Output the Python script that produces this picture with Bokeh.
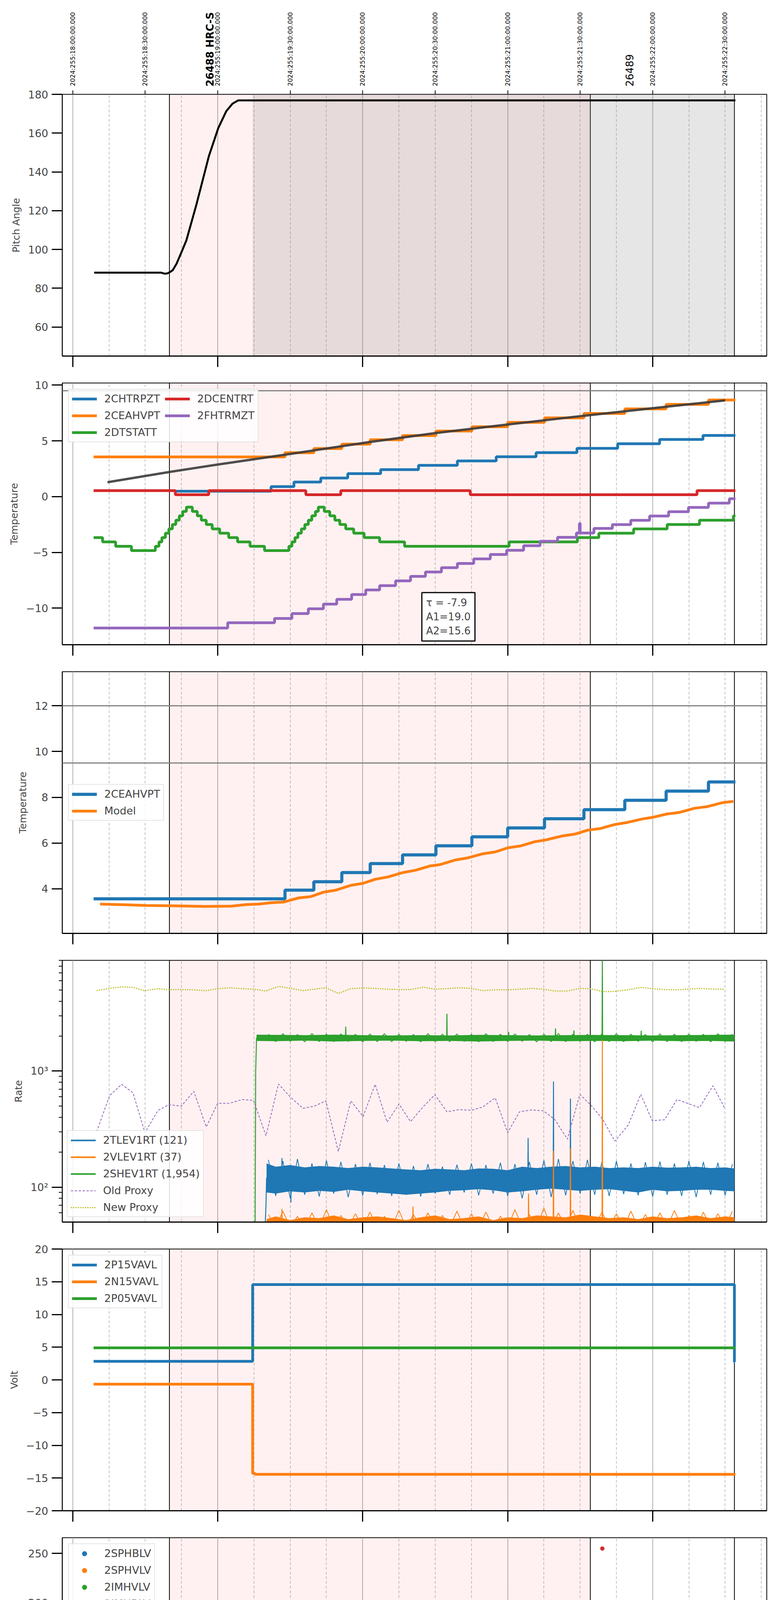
import math
from bokeh.plotting import figure
from bokeh.models import (Range1d, FixedTicker, LinearAxis, Span, BoxAnnotation,
                          Label, Legend, LegendItem)
from bokeh.layouts import column
from bokeh.embed import file_html
from bokeh.resources import INLINE
from bokeh.core.properties import value

FONT = "DejaVu Sans"
NAN = float("nan")

# ---------------- time axis (hours of 2024-09-11) ----------------
X_START, X_END = 13.928, 18.787
HOURS = [14, 15, 16, 17, 18]
HOUR_LABELS = ["14h", "15h", "16h", "17h", "18h"]
QUARTERS = [14.25, 14.5, 14.75, 15.25, 15.5, 15.75, 16.25, 16.5, 16.75,
            17.25, 17.5, 17.75, 18.25, 18.5, 18.75]
QUARTER_LABELS = ["15", "30", "45"] * 5
TOP_TICKS = [14.0, 14.5, 15.0, 15.5, 16.0, 16.5, 17.0, 17.5, 18.0, 18.5]
TOP_LABELS = ["2024:255:18:00:00.000", "2024:255:18:30:00.000",
              "2024:255:19:00:00.000", "2024:255:19:30:00.000",
              "2024:255:20:00:00.000", "2024:255:20:30:00.000",
              "2024:255:21:00:00.000", "2024:255:21:30:00.000",
              "2024:255:22:00:00.000", "2024:255:22:30:00.000"]
OBS_EDGES = [14.667, 17.570, 18.564]
OBS_NAMES = ["26488 HRC-S", "26489"]
SLEW_END = 15.241
X_TITLE = "2024-09-11 (255)"

# ---------------- panel 1: pitch ----------------
PITCH_T = [14.148, 14.612, 14.633, 14.652, 14.666, 14.690, 14.716, 14.752, 14.784,
           14.853, 14.939, 15.004, 15.059, 15.102, 15.142, 18.571]
PITCH_V = [88.0, 88.0, 87.5, 87.6, 88.1, 89.3, 92.6, 98.9, 104.7,
           123.1, 148.1, 162.6, 171.3, 175.2, 176.9, 176.9]

# ---------------- panel 2: temperatures ----------------
CHTRPZT_T = [14.715, 15.368, 15.526, 15.711, 15.897, 16.124, 16.385, 16.653, 16.921,
             17.196, 17.478, 17.759, 18.048, 18.347, 18.571]
CHTRPZT_V = [0.49, 0.90, 1.31, 1.67, 2.06, 2.42, 2.81, 3.20, 3.58,
             3.95, 4.33, 4.74, 5.13, 5.49, 5.49]
CEAHVPT_T = [14.144, 15.464, 15.663, 15.856, 16.052, 16.275, 16.505, 16.753, 17.000,
             17.254, 17.526, 17.808, 18.093, 18.385, 18.571]
CEAHVPT_V = [3.56, 3.94, 4.31, 4.71, 5.10, 5.48, 5.88, 6.27, 6.66,
             7.06, 7.46, 7.87, 8.27, 8.67, 8.67]
DTSTATT_T = [14.144, 14.206, 14.296, 14.405, 14.570, 14.595, 14.615, 14.639, 14.663,
             14.687, 14.711, 14.735, 14.759, 14.784, 14.825, 14.859, 14.887, 14.921,
             14.962, 15.014, 15.076, 15.137, 15.223, 15.323, 15.491, 15.512, 15.533,
             15.553, 15.577, 15.601, 15.625, 15.649, 15.674, 15.694, 15.735, 15.773,
             15.808, 15.842, 15.883, 15.938, 16.010, 16.117, 16.289, 17.010, 17.481,
             17.629, 17.869, 18.100, 18.323, 18.557, 18.571]
DTSTATT_V = [-3.67, -4.06, -4.45, -4.84, -4.45, -4.06, -3.67, -3.28, -2.89,
             -2.50, -2.11, -1.72, -1.33, -0.94, -1.33, -1.72, -2.11, -2.50,
             -2.89, -3.28, -3.67, -4.06, -4.45, -4.84, -4.45, -4.06, -3.67,
             -3.28, -2.89, -2.50, -2.11, -1.72, -1.33, -0.94, -1.33, -1.72,
             -2.11, -2.50, -2.89, -3.28, -3.67, -4.06, -4.45, -4.06, -3.67,
             -3.28, -2.89, -2.50, -2.11, -1.72, -1.72]
DCENTRT_T = [14.144, 14.708, 14.938, 15.608, 15.849, 16.742, 18.306, 18.571]
DCENTRT_V = [0.54, 0.17, 0.54, 0.17, 0.54, 0.17, 0.54, 0.54]
FHTRMZT_T = [14.144, 15.069, 15.392, 15.512, 15.625, 15.729, 15.821, 15.924, 16.021,
             16.117, 16.227, 16.330, 16.433, 16.543, 16.653, 16.766, 16.880, 16.993,
             17.110, 17.223, 17.344, 17.474, 17.495, 17.500, 17.595, 17.722, 17.849,
             17.979, 18.110, 18.247, 18.385, 18.529, 18.571]
FHTRMZT_V = [-11.78, -11.31, -10.92, -10.49, -10.06, -9.64, -9.21, -8.78, -8.37,
             -7.98, -7.55, -7.15, -6.76, -6.37, -5.99, -5.58, -5.19, -4.81,
             -4.40, -4.01, -3.65, -3.26, -2.40, -3.26, -2.85, -2.51, -2.12,
             -1.74, -1.35, -0.97, -0.58, -0.19, -0.19]
FIT_T = [14.24, 14.667, 15.0, 15.46, 16.05, 16.5, 17.0, 17.53, 18.0, 18.50]
FIT_V = [1.29, 2.21, 2.88, 3.75, 4.90, 5.70, 6.47, 7.26, 7.93, 8.63]
FIT_TEXT = "\u03c4 = -7.9\nA1=19.0\nA2=15.6"

# ---------------- panel 3: model ----------------
MODEL_T = [14.189, 14.371, 14.509, 14.667, 14.749, 14.904, 15.093, 15.196, 15.282,
           15.368, 15.454, 15.557, 15.643, 15.729, 15.814, 15.918, 16.003, 16.089,
           16.175, 16.278, 16.364, 16.467, 16.536, 16.639, 16.725, 16.828, 16.914,
           17.000, 17.086, 17.189, 17.258, 17.378, 17.464, 17.550, 17.636, 17.739,
           17.825, 17.928, 17.997, 18.100, 18.186, 18.289, 18.375, 18.478, 18.557]
MODEL_V = [3.33, 3.30, 3.27, 3.26, 3.25, 3.23, 3.24, 3.31, 3.33,
           3.39, 3.42, 3.60, 3.66, 3.85, 3.94, 4.15, 4.24, 4.42,
           4.52, 4.71, 4.81, 5.00, 5.06, 5.26, 5.35, 5.53, 5.61,
           5.79, 5.87, 6.06, 6.13, 6.31, 6.39, 6.56, 6.63, 6.81,
           6.90, 7.05, 7.12, 7.27, 7.34, 7.52, 7.59, 7.76, 7.82]

# ---------------- panel 4: rates ----------------
RATE_BAND_T = [15.337, 15.40, 15.50, 15.60, 15.70, 15.80, 15.90, 16.00, 16.10, 16.20,
               16.30, 16.40, 16.50, 16.60, 16.70, 16.80, 16.90, 17.00, 17.10, 17.20,
               17.30, 17.40, 17.50, 17.60, 17.70, 17.80, 17.90, 18.00, 18.10, 18.20,
               18.30, 18.40, 18.50, 18.564]
TLEV_HI = [160, 150, 155, 148, 152, 150, 146, 150, 148, 145,
           142, 140, 144, 142, 140, 145, 144, 140, 150, 146,
           150, 152, 148, 150, 146, 148, 146, 150, 147, 148,
           150, 146, 148, 145]
TLEV_LO = [90, 88, 92, 90, 93, 91, 95, 92, 90, 88,
           86, 88, 90, 93, 94, 96, 94, 90, 92, 95,
           97, 95, 93, 95, 96, 93, 90, 95, 92, 93,
           95, 95, 93, 92]
VLEV_HI = [53, 56, 52, 55, 54, 57, 53, 55, 56, 54,
           52, 55, 57, 53, 54, 56, 52, 55, 54, 57,
           56, 55, 58, 56, 54, 55, 53, 56, 54, 55,
           57, 54, 56, 55]
SHEV_BAND_T = [15.268, 15.40, 15.60, 15.80, 16.00, 16.20, 16.40, 16.60, 16.80, 17.00,
               17.20, 17.40, 17.60, 17.80, 18.00, 18.20, 18.40, 18.564]
SHEV_HI = [2060, 2050, 2040, 2060, 2040, 2030, 2040, 2030, 2050, 2040,
           2030, 2040, 2050, 2040, 2030, 2040, 2050, 2060]
SHEV_LO = [1820, 1810, 1830, 1800, 1820, 1830, 1810, 1820, 1800, 1820,
           1830, 1810, 1820, 1810, 1830, 1810, 1820, 1800]
NOISE_T = [15.35, 15.40, 15.45, 15.50, 15.55, 15.60, 15.65, 15.70, 15.75, 15.80,
           15.85, 15.90, 15.95, 16.00, 16.05, 16.10, 16.15, 16.20, 16.25, 16.30,
           16.35, 16.40, 16.45, 16.50, 16.55, 16.60, 16.65, 16.70, 16.75, 16.80,
           16.85, 16.90, 16.95, 17.00, 17.05, 17.10, 17.15, 17.20, 17.25, 17.30,
           17.35, 17.40, 17.45, 17.50, 17.55, 17.60, 17.65, 17.70, 17.75, 17.80,
           17.85, 17.90, 17.95, 18.00, 18.05, 18.10, 18.15, 18.20, 18.25, 18.30,
           18.35, 18.40, 18.45, 18.50, 18.55]
TLEV_NOISE = [172, 84, 168, 80, 175, 86, 160, 83, 170, 88,
              165, 82, 158, 85, 162, 87, 155, 84, 160, 86,
              152, 83, 158, 88, 150, 86, 156, 90, 160, 85,
              155, 88, 162, 84, 158, 80, 165, 86, 170, 82,
              175, 85, 168, 88, 172, 86, 165, 84, 168, 87,
              160, 85, 164, 83, 166, 86, 160, 84, 168, 82,
              165, 86, 162, 85, 158]
VLEV_NOISE = [58, 45, 62, 45, 56, 45, 60, 45, 64, 45,
              57, 45, 59, 45, 61, 45, 56, 45, 63, 45,
              58, 45, 60, 45, 57, 45, 62, 45, 59, 45,
              61, 45, 56, 45, 64, 45, 58, 45, 66, 45,
              60, 45, 63, 45, 57, 45, 61, 45, 59, 45,
              62, 45, 58, 45, 60, 45, 63, 45, 57, 45,
              61, 45, 59, 45, 62]
SHEV_NOISE = [2080, 1790, 2100, 1800, 2070, 1785, 2110, 1795, 2085, 1790,
              2095, 1800, 2075, 1785, 2090, 1795, 2100, 1790, 2080, 1800,
              2070, 1785, 2105, 1795, 2085, 1790, 2090, 1800, 2075, 1785,
              2100, 1795, 2080, 1790, 2095, 1800, 2070, 1785, 2085, 1795,
              2110, 1790, 2080, 1800, 2075, 1785, 2090, 1795, 2100, 1790,
              2085, 1800, 2070, 1785, 2095, 1795, 2080, 1790, 2090, 1800,
              2075, 1785, 2100, 1795, 2085]
TLEV_T = [15.327, 15.333, 15.337, 15.441, 15.443, 15.445, 15.503, 15.505, 15.507,
          17.139, 17.141, 17.143, 17.314, 17.316, 17.318, 17.431, 17.433, 17.435, 18.564]
TLEV_V = [45, 70, 120, 120, 178, 120, 120, 74, 120,
          120, 265, 120, 120, 814, 120, 120, 580, 120, 120]
VLEV_T = [15.337, 15.441, 15.443, 15.445, 16.345, 16.347, 16.349, 17.142, 17.144, 17.146,
          17.314, 17.316, 17.318, 17.431, 17.433, 17.435, 17.651, 17.653, 17.655, 18.564]
VLEV_V = [48, 48, 65, 48, 48, 68, 48, 48, 88, 48,
          48, 206, 48, 48, 215, 48, 48, 1860, 48, 48]
SHEV_T = [15.258, 15.262, 15.268, 15.881, 15.883, 15.885, 16.579, 16.581, 16.583,
          17.005, 17.007, 17.009, 17.328, 17.330, 17.332, 17.455, 17.457, 17.459,
          17.651, 17.653, 17.655, 17.919, 17.921, 17.923, 18.564]
SHEV_V = [45, 1000, 1930, 1930, 2415, 1930, 1930, 3120, 1930,
          1930, 2180, 1930, 1930, 2330, 1930, 1930, 2240, 1930,
          1930, 9500, 1930, 1930, 2230, 1930, 1930]
PROXY_T = [14.165, 14.254, 14.337, 14.416, 14.498, 14.588, 14.663, 14.749, 14.835,
           14.921, 15.000, 15.082, 15.168, 15.247, 15.333, 15.419, 15.505, 15.588,
           15.667, 15.746, 15.832, 15.918, 16.003, 16.086, 16.168, 16.251, 16.330,
           16.416, 16.498, 16.581, 16.667, 16.749, 16.828, 16.914, 17.000, 17.082,
           17.165, 17.247, 17.326, 17.412, 17.498, 17.574, 17.656, 17.739, 17.832,
           17.918, 17.997, 18.082, 18.168, 18.323, 18.416, 18.495]
OLD_PROXY = [300, 613, 769, 649, 295, 458, 513, 499, 669,
             330, 528, 528, 569, 559, 277, 774, 591, 478,
             499, 554, 203, 554, 406, 769, 363, 519, 367,
             490, 626, 446, 466, 459, 490, 587, 295, 446,
             463, 455, 381, 259, 630, 509, 384, 249, 343,
             630, 374, 381, 569, 484, 748, 484]
NEW_PROXY = [4932, 5160, 5320, 5260, 4932, 5130, 5025, 5045, 5010,
             4932, 5130, 5225, 5130, 5080, 4895, 5360, 5160, 4932,
             5080, 5225, 4670, 5130, 5200, 5160, 5080, 5045, 5045,
             5280, 5080, 5130, 5225, 5160, 4932, 5025, 5010, 5080,
             5160, 5080, 4895, 4895, 5160, 5130, 4840, 4860, 5025,
             5260, 5130, 5045, 5010, 5160, 5080, 5080]

# ---------------- panel 5: voltages ----------------
P15_T = [14.144, 15.241, 18.564, 18.568]
P15_V = [2.83, 14.56, 2.75, 2.75]
N15_T = [14.144, 15.241, 15.258, 18.571]
N15_V = [-0.66, -14.3, -14.44, -14.44]
P05_T = [14.144, 18.571]
P05_V = [4.89, 4.89]

# ---------------- panel 6: HV monitors ----------------
SPHBLV_T = [15.292, 15.292, 15.294, 15.302, 15.313, 15.320, 15.330, 15.344, 18.571]
SPHBLV_V = [122, 111, 102, 97.5, 92, 87, 82, 77.5, 77.5]
SPHVLV_T = [15.292, 15.292, 15.292, 15.294, 15.305, 15.316, 15.327, 15.337, 15.344,
            17.780, 17.814, 17.842, 17.924, 18.271, 18.337, 18.571]
SPHVLV_V = [127, 125, 107, 96, 90, 85.5, 80, 75, 70.7,
            127, 127, 127, 127, 127, 127, 70.7]
IMHVLV_T = [NAN]
IMHVLV_V = [NAN]
IMHBLV_T = [17.653]
IMHBLV_V = [255]

# ---------------- panel 7: detector temps ----------------
SPINATM_T = [15.241, 15.306, 15.478, 15.498, 15.519, 15.540, 15.564, 15.588, 15.608,
             15.632, 15.653, 15.677, 15.735, 15.763, 15.790, 15.825, 15.866, 15.918,
             15.986, 16.072, 16.192, 16.381, 18.110, 18.571]
SPINATM_V = [2.67, 2.21, 2.70, 3.20, 3.71, 4.22, 4.74, 5.23, 5.75,
             6.24, 6.75, 7.27, 6.75, 6.24, 5.75, 5.23, 4.74, 4.22,
             3.71, 3.20, 2.70, 2.21, 2.70, 2.70]
SPINATM_SPIKE_T = [17.744, 17.752, 17.760, 17.814, 17.859, 17.918, 18.271, 18.337, 18.375]
SPINATM_SPIKE_V = [-2.0, -2.0, -2.0, -2.0, -2.0, -2.0, -2.0, -2.0, -2.0]
SPHVATM_T = [15.241, 15.392, 15.478, 15.540, 15.608, 15.677, 15.756, 15.842, 15.928,
             16.021, 16.124, 16.247, 16.357, 16.495, 16.632, 16.784, 16.942, 17.113,
             17.282, 17.474, 17.698, 17.931, 18.151, 18.399, 18.571]
SPHVATM_V = [11.64, 11.98, 12.33, 12.67, 13.01, 13.35, 13.70, 14.04, 14.38,
             14.73, 15.07, 15.41, 15.76, 16.10, 16.44, 16.79, 17.13, 17.47,
             17.82, 18.16, 18.50, 18.85, 19.19, 19.53, 19.53]
SPHVATM_SPIKE_T = [17.650, 17.739, 17.749, 17.759, 17.770, 17.780, 17.790, 17.801, 17.814,
                   17.821, 17.842, 17.863, 17.883, 17.904, 17.924, 18.271, 18.337, 18.375]
SPHVATM_SPIKE_V = [2.2, 9.0, 9.0, 9.0, 9.0, 9.0, 9.0, 9.0, -2.0,
                   9.0, 9.0, 9.0, 9.0, 9.0, 9.0, 9.7, 9.7, 9.7]
IMINATM_T = [15.241, 17.430, 17.440, 18.571]
IMINATM_V = [-0.09, 0.25, 0.34, 0.34]
IMINATM_SPIKE_T = [17.746, 17.763, 17.780, 17.821, 17.852, 17.876, 17.911, 18.271, 18.375]
IMINATM_SPIKE_V = [2.21, 2.21, 2.21, 2.21, 2.21, 2.21, 2.21, 2.5, 2.5]
IMHVATM_T = [15.238, 15.241, 15.694, 15.945, 16.165, 16.392, 16.598, 16.811, 17.017,
             17.223, 17.447, 17.677, 17.911, 18.134, 18.392, 18.571]
IMHVATM_V = [-2.0, 10.98, 11.32, 11.64, 11.98, 12.33, 12.64, 12.99, 13.30,
             13.65, 13.99, 14.34, 14.66, 15.00, 15.34, 15.34]
IMHVATM_SPIKE_T = [17.653, 17.739, 17.746, 17.753, 17.760, 17.767, 17.774, 17.781, 17.788,
                   17.795, 17.802, 17.809, 17.821, 17.842, 17.863, 17.883, 17.904, 17.924,
                   18.278, 18.375]
IMHVATM_SPIKE_V = [-2.0, 18.6, 18.6, 18.6, 18.6, 18.6, 18.6, 18.6, 18.6,
                   18.6, 18.6, 18.6, 18.6, 18.6, 18.6, 18.6, 18.6, 18.6,
                   18.6, 18.6]

# ---------------- panel 8: FEA temps ----------------
FRADPYT_T = [15.5, 15.718, 15.821, 15.918, 16.021, 16.124, 16.227, 16.337, 16.450,
             16.570, 16.691, 16.811, 16.931, 17.052, 17.179, 17.309, 17.447, 17.574,
             17.739, 17.876, 17.997, 18.134, 18.271, 18.426, 18.571]
FRADPYT_V = [-11.6, -10.88, -10.47, -10.03, -9.61, -9.24, -8.84, -8.42, -8.00,
             -7.59, -7.19, -6.77, -6.38, -5.98, -5.57, -5.19, -4.81, -4.44,
             -4.04, -3.66, -3.28, -2.89, -2.52, -2.14, -2.14]
FEPRATM_T = [15.265, 15.323, 15.361, 15.409, 15.471, 15.540, 15.625, 15.711, 15.804,
             15.900, 15.997, 16.100, 16.203, 16.306, 16.423, 16.536, 16.649, 16.770,
             16.890, 17.017, 17.155, 17.282, 17.419, 17.560, 17.698, 17.842, 18.003,
             18.158, 18.323, 18.571]
FEPRATM_V = [-11.5, -10.65, -10.28, -9.83, -9.41, -8.98, -8.56, -8.15, -7.73,
             -7.31, -6.88, -6.46, -6.04, -5.62, -5.20, -4.78, -4.36, -3.94,
             -3.52, -3.12, -2.72, -2.30, -1.88, -1.44, -1.01, -0.56, -0.14,
             0.34, 0.75, 0.75]
FEPRATM_SPIKE_T = [17.746, 17.763, 17.814, 17.832, 17.876, 17.893, 17.918, 18.271, 18.337]
FEPRATM_SPIKE_V = [-6.1, -6.1, -6.1, -6.1, -6.1, -6.1, -6.1, -6.1, -6.1]
FE00ATM_T = [15.55, 15.667, 15.746, 15.832, 15.918, 15.979, 16.055, 16.141, 16.227,
             16.316, 16.399, 16.488, 16.570, 16.656, 16.759, 16.845, 16.938, 17.034,
             17.127, 17.223, 17.326, 17.430, 17.533, 17.653, 17.739, 17.945, 18.065,
             18.151, 18.271, 18.392, 18.495, 18.571]
FE00ATM_V = [-11.6, -10.83, -10.43, -10.06, -9.72, -9.33, -8.94, -8.56, -8.17,
             -7.80, -7.53, -7.14, -6.77, -6.41, -6.02, -5.67, -5.37, -5.02,
             -4.66, -4.32, -3.98, -3.65, -3.31, -2.92, -2.61, -2.30, -2.02,
             -1.75, -0.98, -0.62, -0.31, -0.31]
FE00ATM_SPIKE_T = [15.787, 16.010, 17.268, 17.656, 17.742, 17.752, 17.763, 17.773, 17.783,
                   17.794, 17.801, 17.814, 17.821, 17.835, 17.852, 17.866, 17.890, 17.911,
                   18.274, 18.375, 18.485, 18.505]
FE00ATM_SPIKE_V = [-9.57, -8.2, -2.92, -11.6, 0.6, 0.6, 0.6, 0.6, 0.6,
                   0.6, -11.6, -11.6, 0.6, 0.6, -11.6, 0.6, 0.6, 0.6,
                   0.6, 0.6, -1.0, 0.0]

BLUE, ORANGE, GREEN, RED, PURPLE, OLIVE = ("#1f77b4", "#ff7f0e", "#2ca02c",
                                          "#d62728", "#9467bd", "#bcbd22")
GRID_GRAY = "#b0b0b0"
MINUS = "\u2212"
TOP_PAD, BOTTOM_PAD = 18, 51   # 69 px between consecutive panels


def spiked(t, v, st, sv, w=0.004):
    pts = list(zip(t, v))
    for ts, vs in zip(st, sv):
        base = v[0]
        for tt, vv in zip(t, v):
            if tt <= ts:
                base = vv
        pts.append((ts, vs))
        pts.append((ts + w, base))
    pts.sort(key=lambda q: q[0])
    return [q[0] for q in pts], [q[1] for q in pts]


def tick_labels(ticks, fmt=None):
    out = {}
    for t in ticks:
        s = fmt(t) if fmt else ("%g" % t)
        out[t] = s.replace("-", MINUS)
    return out


X_RANGE = Range1d(X_START, X_END)


def make_fig(ylim, ylabel, yticks, ylabels=None, top=TOP_PAD, bottom=BOTTOM_PAD,
             log=False, minor=None):
    p = figure(frame_width=1804, frame_height=670,
               min_border_left=159, min_border_right=29,
               min_border_top=top, min_border_bottom=bottom,
               x_range=X_RANGE, y_range=Range1d(*ylim),
               y_axis_type="log" if log else "linear",
               output_backend="svg", toolbar_location=None)
    p.ygrid.visible = False
    p.outline_line_color = "black"
    p.outline_line_width = 2
    p.xgrid.ticker = FixedTicker(ticks=HOURS, minor_ticks=QUARTERS)
    p.xgrid.grid_line_color = GRID_GRAY
    p.xgrid.grid_line_width = 2
    p.xgrid.minor_grid_line_color = GRID_GRAY
    p.xgrid.minor_grid_line_width = 1.5
    p.xgrid.minor_grid_line_dash = "7 5"
    p.add_layout(BoxAnnotation(left=OBS_EDGES[0], right=OBS_EDGES[1],
                               fill_color="#ff0000", fill_alpha=0.055, line_alpha=0,
                               level="underlay"))
    for e in OBS_EDGES:
        p.add_layout(Span(location=e, dimension="height", line_color="black",
                          line_width=2, level="underlay"))

    xa = p.xaxis[0]
    xa.ticker = FixedTicker(ticks=HOURS)
    xa.major_tick_out = 28
    xa.major_tick_in = 0
    xa.major_tick_line_width = 3
    xa.minor_tick_line_color = None
    xa.axis_line_width = 3
    xa.major_label_text_color = None
    xa.major_label_text_font_size = "1px"
    xa.major_label_standoff = 0

    ya = p.yaxis[0]
    ya.ticker = FixedTicker(ticks=yticks, minor_ticks=minor or [])
    ya.major_label_overrides = ylabels if ylabels else tick_labels(yticks)
    ya.major_tick_out = 27
    ya.major_tick_in = 0
    ya.major_tick_line_width = 3
    ya.minor_tick_out = 9
    ya.minor_tick_in = 0
    ya.minor_tick_line_width = 2
    if not minor:
        ya.minor_tick_line_color = None
    ya.axis_line_width = 2
    ya.major_label_text_font = FONT
    ya.major_label_text_font_size = "27px"
    ya.major_label_standoff = 9
    ya.axis_label = ylabel
    ya.axis_label_text_font = FONT
    ya.axis_label_text_font_size = "25px"
    ya.axis_label_text_font_style = "normal"
    ya.axis_label_standoff = 13
    return p


def add_legend(p, items, location, nrows=None, margin=15):
    leg = Legend(items=[LegendItem(label=lab, renderers=[r]) for lab, r in items],
                 location=location, margin=margin, padding=8, spacing=12,
                 label_standoff=19, glyph_width=64, glyph_height=30, label_height=30,
                 label_text_font=FONT, label_text_font_size="27px",
                 border_line_color="#cccccc", border_line_width=2,
                 background_fill_alpha=0.85)
    if nrows:
        leg.nrows = nrows
    p.add_layout(leg)


# ======== header strip above panel 1: UTC time stamps and obsids ========
HEAD_H = 249 - 8 - TOP_PAD
head = figure(frame_width=1804, frame_height=HEAD_H, min_border_left=159, min_border_right=29,
              min_border_top=0, min_border_bottom=0, x_range=X_RANGE,
              y_range=Range1d(0, HEAD_H), x_axis_location=None, y_axis_location=None,
              output_backend="svg", toolbar_location=None)
head.outline_line_color = None
head.grid.visible = False
head.text(x=TOP_TICKS, y=3, text=TOP_LABELS, angle=math.pi / 2,
          text_align="left", text_baseline="middle", text_font=value(FONT),
          text_font_size="16px", text_color="black")
head.text(x=[OBS_EDGES[0] + 0.28], y=[2], text=[OBS_NAMES[0]], angle=math.pi / 2,
          text_align="left", text_baseline="middle", text_font=value(FONT),
          text_font_size="26px", text_font_style="bold", text_color="black")
head.text(x=[OBS_EDGES[1] + 0.27], y=[2], text=[OBS_NAMES[1]], angle=math.pi / 2,
          text_align="left", text_baseline="middle", text_font=value(FONT),
          text_font_size="26px", text_color="black")

# ======== panel 1 ========
p1 = make_fig((45, 180), "Pitch Angle", [60, 80, 100, 120, 140, 160, 180])
p1.add_layout(BoxAnnotation(left=SLEW_END, right=OBS_EDGES[2], fill_color="#808080",
                            fill_alpha=0.2, line_alpha=0, level="underlay"))
p1.line(PITCH_T, PITCH_V, line_color="black", line_width=5)
top_axis = LinearAxis(ticker=FixedTicker(ticks=TOP_TICKS), major_tick_out=10,
                      major_tick_in=0, major_tick_line_width=2, minor_tick_line_color=None,
                      axis_line_color=None, major_label_text_color=None,
                      major_label_text_font_size="1px", major_label_standoff=0)
p1.add_layout(top_axis, "above")

# ======== panel 2 ========
p2 = make_fig((-13.28, 10.19), "Temperature", [-10, -5, 0, 5, 10])
p2.add_layout(Span(location=9.5, dimension="width", line_color="#808080", line_width=3))
r_cht = p2.step(CHTRPZT_T, CHTRPZT_V, mode="after", line_color=BLUE, line_width=7)
r_cea = p2.step(CEAHVPT_T, CEAHVPT_V, mode="after", line_color=ORANGE, line_width=7)
r_dts = p2.step(DTSTATT_T, DTSTATT_V, mode="after", line_color=GREEN, line_width=7)
r_dce = p2.step(DCENTRT_T, DCENTRT_V, mode="after", line_color=RED, line_width=7)
r_fht = p2.step(FHTRMZT_T, FHTRMZT_V, mode="after", line_color=PURPLE, line_width=7)
p2.line(FIT_T, FIT_V, line_color="#3a3a3a", line_width=6, line_alpha=0.9)
add_legend(p2, [("2CHTRPZT", r_cht), ("2CEAHVPT", r_cea), ("2DTSTATT", r_dts),
                ("2DCENTRT", r_dce), ("2FHTRMZT", r_fht)], "top_left", nrows=3)
p2.add_layout(Label(x=16.408, y=-12.95, text=FIT_TEXT, text_align="left",
                    text_baseline="bottom", text_font=FONT, text_font_size="26px",
                    border_line_color="black", border_line_width=3,
                    background_fill_color="white", padding=11))

# ======== panel 3 ========
p3 = make_fig((2.05, 13.49), "Temperature", [4, 6, 8, 10, 12])
for lvl in (12, 9.5):
    p3.add_layout(Span(location=lvl, dimension="width", line_color="#808080", line_width=3))
r3a = p3.step(CEAHVPT_T, CEAHVPT_V, mode="after", line_color=BLUE, line_width=8)
r3b = p3.line(MODEL_T, MODEL_V, line_color=ORANGE, line_width=7)
add_legend(p3, [("2CEAHVPT", r3a), ("Model", r3b)], "center_left")

# ======== panel 4 ========
minor_log = [60, 70, 80, 90, 200, 300, 400, 500, 600, 700, 800, 900,
             2000, 3000, 4000, 5000, 6000, 7000, 8000, 9000]
p4 = make_fig((50, 9000), "Rate", [100, 1000], {100: "10\u00b2", 1000: "10\u00b3"},
              log=True, minor=minor_log)
p4.varea(x=SHEV_BAND_T, y1=SHEV_LO, y2=SHEV_HI, fill_color=GREEN)
p4.line(NOISE_T, SHEV_NOISE, line_color=GREEN, line_width=2)
p4.line(SHEV_T, SHEV_V, line_color=GREEN, line_width=2.5)
p4.varea(x=RATE_BAND_T, y1=TLEV_LO, y2=TLEV_HI, fill_color=BLUE)
p4.line(NOISE_T, TLEV_NOISE, line_color=BLUE, line_width=2)
p4.line(TLEV_T, TLEV_V, line_color=BLUE, line_width=2.5)
p4.varea(x=RATE_BAND_T, y1=40, y2=VLEV_HI, fill_color=ORANGE)
p4.line(NOISE_T, VLEV_NOISE, line_color=ORANGE, line_width=2)
p4.line(VLEV_T, VLEV_V, line_color=ORANGE, line_width=2.5)
r_old = p4.line(PROXY_T, OLD_PROXY, line_color=PURPLE, line_width=2, line_dash="6 4")
r_new = p4.line(PROXY_T, NEW_PROXY, line_color=OLIVE, line_width=3, line_dash="3 3")
lg_t = p4.line([NAN], [NAN], line_color=BLUE, line_width=4)
lg_v = p4.line([NAN], [NAN], line_color=ORANGE, line_width=4)
lg_s = p4.line([NAN], [NAN], line_color=GREEN, line_width=4)
add_legend(p4, [("2TLEV1RT (121)", lg_t), ("2VLEV1RT (37)", lg_v),
                ("2SHEV1RT (1,954)", lg_s), ("Old Proxy", r_old), ("New Proxy", r_new)],
           "bottom_left", margin=12)

# ======== panel 5 ========
p5 = make_fig((-20, 20), "Volt", [-20, -15, -10, -5, 0, 5, 10, 15, 20])
r5a = p5.step(P15_T, P15_V, mode="after", line_color=BLUE, line_width=7)
r5b = p5.step(N15_T, N15_V, mode="after", line_color=ORANGE, line_width=7)
r5c = p5.step(P05_T, P05_V, mode="after", line_color=GREEN, line_width=7)
add_legend(p5, [("2P15VAVL", r5a), ("2N15VAVL", r5b), ("2P05VAVL", r5c)], "top_left")

# ======== panel 6 ========
p6 = make_fig((0, 266), "HV Monitor", [0, 50, 100, 150, 200, 250])
p6.line(SPHBLV_T[-2:], SPHBLV_V[-2:], line_color=BLUE, line_width=12)
p6.line(SPHVLV_T[8:9] + SPHVLV_T[-1:], SPHVLV_V[8:9] + SPHVLV_V[-1:],
        line_color=ORANGE, line_width=10)
r6a = p6.scatter(SPHBLV_T, SPHBLV_V, size=10, color=BLUE)
r6b = p6.scatter(SPHVLV_T, SPHVLV_V, size=10, color=ORANGE)
r6c = p6.scatter(IMHVLV_T, IMHVLV_V, size=10, color=GREEN)
r6d = p6.scatter(IMHBLV_T, IMHBLV_V, size=10, color=RED)
add_legend(p6, [("2SPHBLV", r6a), ("2SPHVLV", r6b), ("2IMHVLV", r6c), ("2IMHBLV", r6d)],
           "top_left")

# ======== panel 7 ========
yt7 = [0, 2.5, 5, 7.5, 10, 12.5, 15, 17.5]
p7 = make_fig((-1.58, 19.97), "Detector Temp", yt7, tick_labels(yt7, lambda t: "%.1f" % t))
x, y = spiked(SPINATM_T, SPINATM_V, SPINATM_SPIKE_T, SPINATM_SPIKE_V)
r7a = p7.step(x, y, mode="after", line_color=BLUE, line_width=7)
x, y = spiked(SPHVATM_T, SPHVATM_V, SPHVATM_SPIKE_T, SPHVATM_SPIKE_V)
r7b = p7.step(x, y, mode="after", line_color=ORANGE, line_width=7)
x, y = spiked(IMINATM_T, IMINATM_V, IMINATM_SPIKE_T, IMINATM_SPIKE_V)
r7c = p7.step(x, y, mode="after", line_color=GREEN, line_width=7)
x, y = spiked(IMHVATM_T, IMHVATM_V, IMHVATM_SPIKE_T, IMHVATM_SPIKE_V)
r7d = p7.step(x, y, mode="after", line_color=RED, line_width=7)
add_legend(p7, [("2SPINATM", r7a), ("2SPHVATM", r7b), ("2IMINATM", r7c), ("2IMHVATM", r7d)],
           "top_left")

# ======== panel 8 ========
p8 = make_fig((-11.13, 0.5), "FEA Temp", [-10, -8, -6, -4, -2, 0], bottom=40)
r8a = p8.step(FHTRMZT_T, FHTRMZT_V, mode="after", line_color=BLUE, line_width=7)
r8b = p8.step(FRADPYT_T, FRADPYT_V, mode="after", line_color=ORANGE, line_width=7)
x, y = spiked(FEPRATM_T, FEPRATM_V, FEPRATM_SPIKE_T, FEPRATM_SPIKE_V)
r8c = p8.step(x, y, mode="after", line_color=GREEN, line_width=7)
x, y = spiked(FE00ATM_T, FE00ATM_V, FE00ATM_SPIKE_T, FE00ATM_SPIKE_V)
r8d = p8.step(x, y, mode="after", line_color=RED, line_width=7)
add_legend(p8, [("2FHTRMZT", r8a), ("2FRADPYT", r8b), ("2FEPRATM", r8c), ("2FE00ATM", r8d)],
           "top_left")
# axis next to the frame: quarter-hour labels, with the hour ticks drawn as long minor ticks
xa8 = p8.xaxis[0]
xa8.ticker = FixedTicker(ticks=QUARTERS, minor_ticks=HOURS)
xa8.major_label_overrides = dict(zip(QUARTERS, QUARTER_LABELS))
xa8.major_label_text_color = "black"
xa8.major_label_text_font = FONT
xa8.major_label_text_font_size = "19px"
xa8.major_label_standoff = 6
xa8.major_tick_out = 0
xa8.major_tick_in = 0
xa8.minor_tick_line_color = "black"
xa8.minor_tick_line_width = 3
xa8.minor_tick_out = 28
xa8.minor_tick_in = 0
# second axis below: hour labels and date title
hour_axis = LinearAxis(ticker=FixedTicker(ticks=HOURS),
                       major_label_overrides=dict(zip(HOURS, HOUR_LABELS)),
                       major_tick_out=0, major_tick_in=0, minor_tick_line_color=None,
                       axis_line_color=None, major_label_text_font=FONT,
                       major_label_text_font_size="27px", major_label_standoff=8,
                       axis_label=X_TITLE, axis_label_text_font=FONT,
                       axis_label_text_font_size="31px", axis_label_text_font_style="normal",
                       axis_label_standoff=6)
p8.add_layout(hour_axis, "below")

layout = column(head, p1, p2, p3, p4, p5, p6, p7, p8, spacing=0)
open("out.html", "w").write(file_html(layout, INLINE))
